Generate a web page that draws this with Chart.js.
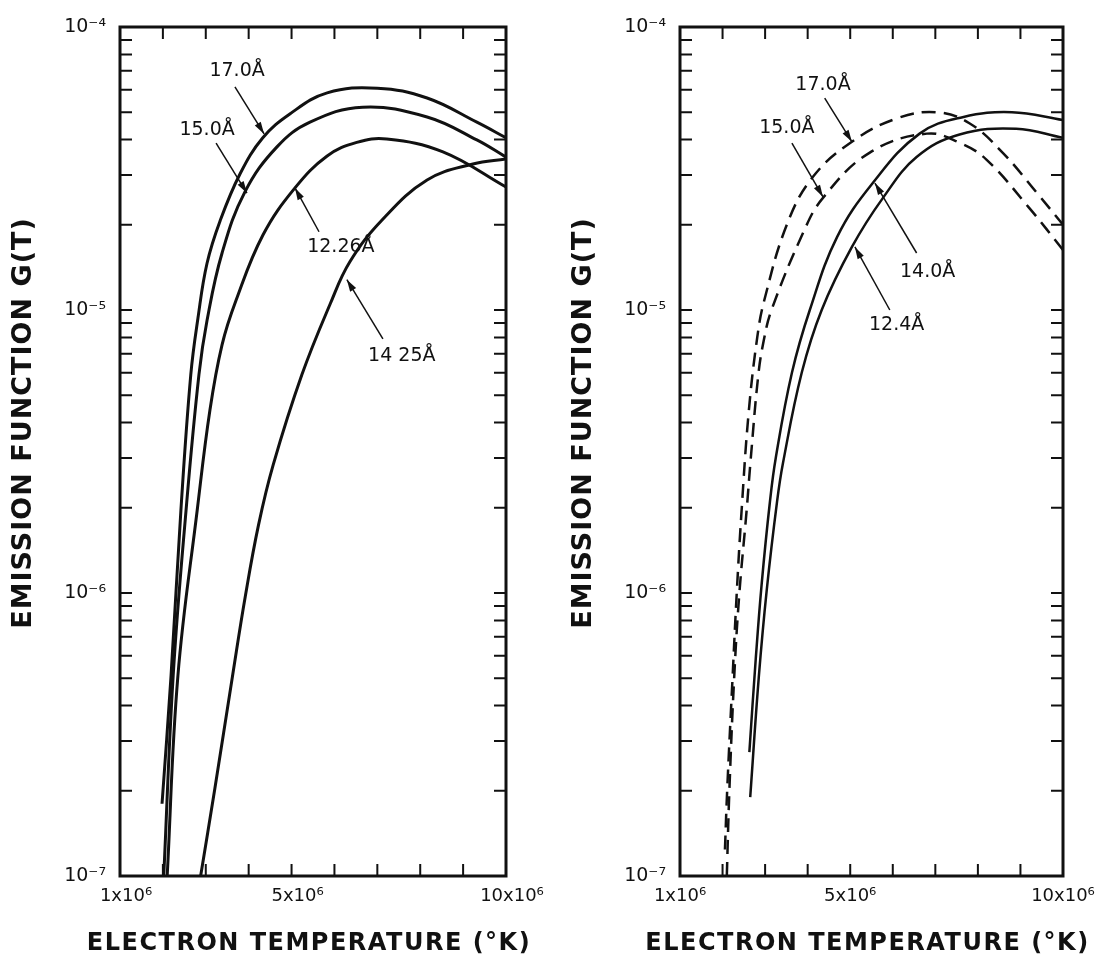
<!DOCTYPE html>
<html>
<head>
<meta charset="utf-8">
<script src="https://cdn.jsdelivr.net/npm/chart.js@4.4.1/dist/chart.umd.min.js"></script>
<style>
  html, body { margin: 0; padding: 0; background: #fff; }
  #wrap { position: relative; width: 1113px; height: 959px; }
  .panel { position: absolute; top: 0; height: 959px; }
  #leftBox { left: 0; width: 556px; }
  #rightBox { left: 556px; width: 557px; }
</style>
</head>
<body>
<div id="wrap">
  <div class="panel" id="leftBox"><canvas id="leftChart"></canvas></div>
  <div class="panel" id="rightBox"><canvas id="rightChart"></canvas></div>
</div>
<script>
// Electron temperature (K) and emission function G(T)

// left panel
const tL170 = [1.98e6, 2.19e6, 2.42e6, 2.65e6, 2.818e6, 3.028e6, 3.331e6, 3.8e6, 4.33e6, 4.96e6, 5.83e6, 7.0e6, 8.16e6, 9.32e6, 10.0e6];
const gL170 = [1.8e-7, 5.1e-7, 1.96e-6, 5.9e-6, 9.37e-6, 1.46e-5, 2.06e-5, 3.03e-5, 4.06e-5, 4.93e-5, 5.85e-5, 6.08e-5, 5.61e-5, 4.61e-5, 4.06e-5];

const tL150 = [2.02e6, 2.24e6, 2.54e6, 2.84e6, 3.03e6, 3.38e6, 3.91e6, 4.66e6, 5.43e6, 6.66e6, 8.16e6, 9.32e6, 10.0e6];
const gL150 = [1.0e-7, 5.1e-7, 1.96e-6, 5.9e-6, 9.2e-6, 1.59e-5, 2.61e-5, 3.77e-5, 4.61e-5, 5.21e-5, 4.81e-5, 3.99e-5, 3.47e-5];

const tL1226 = [2.1e6, 2.35e6, 2.8e6, 3.098e6, 3.378e6, 3.704e6, 4.333e6, 5.08e6, 5.83e6, 6.52e6, 7.22e6, 8.53e6, 10.0e6];
const gL1226 = [1.0e-7, 5.1e-7, 1.96e-6, 4.44e-6, 7.52e-6, 1.08e-5, 1.84e-5, 2.7e-5, 3.5e-5, 3.91e-5, 4.02e-5, 3.62e-5, 2.72e-5];

const tL1425 = [2.88e6, 3.21e6, 3.62e6, 3.92e6, 4.23e6, 4.57e6, 5.24e6, 5.9e6, 6.36e6, 7.11e6, 8.16e6, 9.23e6, 10.0e6];
const gL1425 = [1.0e-7, 2.03e-7, 5.05e-7, 9.7e-7, 1.74e-6, 2.83e-6, 5.9e-6, 1.05e-5, 1.48e-5, 2.08e-5, 2.88e-5, 3.28e-5, 3.42e-5];

// right panel
const tR170 = [2.056e6, 2.11e6, 2.237e6, 2.331e6, 2.448e6, 2.613e6, 2.815e6, 2.979e6, 3.51e6, 4.12e6, 5.04e6, 6.09e6, 7.03e6, 7.8e6, 8.58e6, 9.38e6, 10.0e6];
const gR170 = [1.24e-7, 2.03e-7, 5.09e-7, 9.84e-7, 1.96e-6, 4.33e-6, 8.0e-6, 1.08e-5, 2.0e-5, 2.95e-5, 3.93e-5, 4.75e-5, 5.0e-5, 4.57e-5, 3.6e-5, 2.6e-5, 2.0e-5];

const tR150 = [2.1e6, 2.16e6, 2.275e6, 2.392e6, 2.566e6, 2.66e6, 2.84e6, 2.97e6, 3.15e6, 3.89e6, 4.36e6, 5.46e6, 6.8e6, 7.57e6, 8.2e6, 9.2e6, 10.0e6];
const gR150 = [1.0e-7, 2.0e-7, 5.09e-7, 9.84e-7, 1.96e-6, 2.95e-6, 5.89e-6, 7.83e-6, 1.0e-5, 1.87e-5, 2.49e-5, 3.6e-5, 4.2e-5, 3.9e-5, 3.4e-5, 2.3e-5, 1.63e-5];

const tR140 = [2.63e6, 2.78e6, 2.92e6, 3.11e6, 3.25e6, 3.63e6, 4.05e6, 4.69e6, 5.53e6, 6.63e6, 7.64e6, 8.8e6, 10.0e6];
const gR140 = [2.74e-7, 5.85e-7, 1.08e-6, 2.08e-6, 3.0e-6, 6.0e-6, 1.0e-5, 1.81e-5, 2.81e-5, 4.2e-5, 4.8e-5, 5.0e-5, 4.69e-5];

const tR124 = [2.65e6, 2.85e6, 3.04e6, 3.28e6, 3.42e6, 3.86e6, 4.33e6, 5.04e6, 5.77e6, 6.56e6, 7.57e6, 8.9e6, 10.0e6];
const gR124 = [1.9e-7, 5.01e-7, 1.03e-6, 2.1e-6, 2.88e-6, 6.0e-6, 1.0e-5, 1.67e-5, 2.49e-5, 3.47e-5, 4.17e-5, 4.37e-5, 4.06e-5];

// axes
const xTicks = [1e6, 5e6, 1e7];
const xLabels = ['1x10⁶', '5x10⁶', '10x10⁶'];
const yTicks = [1e-7, 1e-6, 1e-5, 1e-4];
const yLabels = ['10⁻⁷', '10⁻⁶', '10⁻⁵', '10⁻⁴'];
const xMinor = [2e6, 3e6, 4e6, 5e6, 6e6, 7e6, 8e6, 9e6];
const yMinor = [];
[1e-7, 1e-6, 1e-5].forEach(d => { for (let k = 1; k <= 10; k++) yMinor.push(d * k); });

const xTitle = 'ELECTRON TEMPERATURE (°K)';
const yTitle = 'EMISSION FUNCTION G(T)';

const ink = '#111';
const family = "'DejaVu Sans', sans-serif";

const zip = (t, g) => t.map((v, i) => ({ x: v, y: g[i] }));

// labels with arrows: text position, arrow tail, arrow tip (data coordinates)
const leftNotes = [
    { text: '17.0Å', at: [3.73e6, 7.0e-5], from: [3.68e6, 6.14e-5], to: [4.36e6, 4.19e-5] },
    { text: '15.0Å', at: [3.03e6, 4.33e-5], from: [3.24e6, 3.89e-5], to: [3.96e6, 2.59e-5] },
    { text: '12.26Å', at: [6.15e6, 1.67e-5], from: [5.64e6, 1.89e-5], to: [5.08e6, 2.7e-5] },
    { text: '14 25Å', at: [7.57e6, 6.87e-6], from: [7.13e6, 7.9e-6], to: [6.29e6, 1.28e-5] }
];
const rightNotes = [
    { text: '17.0Å', at: [4.36e6, 6.24e-5], from: [4.40e6, 5.61e-5], to: [5.04e6, 3.93e-5] },
    { text: '15.0Å', at: [3.51e6, 4.4e-5], from: [3.63e6, 3.89e-5], to: [4.36e6, 2.51e-5] },
    { text: '14.0Å', at: [6.82e6, 1.36e-5], from: [6.56e6, 1.59e-5], to: [5.58e6, 2.81e-5] },
    { text: '12.4Å', at: [6.09e6, 8.85e-6], from: [5.93e6, 1.0e-5], to: [5.11e6, 1.67e-5] }
];

function arrow(ctx, x0, y0, x1, y1) {
    const ang = Math.atan2(y1 - y0, x1 - x0);
    ctx.beginPath();
    ctx.moveTo(x0, y0);
    ctx.lineTo(x1, y1);
    ctx.stroke();
    ctx.beginPath();
    ctx.moveTo(x1, y1);
    ctx.lineTo(x1 - 12 * Math.cos(ang) + 3.5 * Math.sin(ang), y1 - 12 * Math.sin(ang) - 3.5 * Math.cos(ang));
    ctx.lineTo(x1 - 12 * Math.cos(ang) - 3.5 * Math.sin(ang), y1 - 12 * Math.sin(ang) + 3.5 * Math.cos(ang));
    ctx.closePath();
    ctx.fill();
}

// box, inward ticks, arrow labels and axis titles
const frame = {
    id: 'frame',
    afterDraw(chart, args, opts) {
        const { ctx, chartArea: a } = chart;
        const xs = chart.scales.x, ys = chart.scales.y;
        ctx.save();
        ctx.strokeStyle = ink;
        ctx.fillStyle = ink;
        ctx.lineWidth = 3;
        ctx.strokeRect(a.left, a.top, a.right - a.left, a.bottom - a.top);

        ctx.lineWidth = 2;
        ctx.beginPath();
        xMinor.forEach(v => {
            const px = xs.getPixelForValue(v);
            ctx.moveTo(px, a.top); ctx.lineTo(px, a.top + 12);
            ctx.moveTo(px, a.bottom); ctx.lineTo(px, a.bottom - 12);
        });
        yMinor.forEach(v => {
            const py = ys.getPixelForValue(v);
            ctx.moveTo(a.left, py); ctx.lineTo(a.left + 12, py);
            ctx.moveTo(a.right, py); ctx.lineTo(a.right - 12, py);
        });
        ctx.stroke();

        ctx.lineWidth = 1.5;
        ctx.font = '19px ' + family;
        ctx.textAlign = 'center';
        ctx.textBaseline = 'middle';
        opts.notes.forEach(n => {
            ctx.fillText(n.text, xs.getPixelForValue(n.at[0]), ys.getPixelForValue(n.at[1]));
            arrow(ctx, xs.getPixelForValue(n.from[0]), ys.getPixelForValue(n.from[1]),
                xs.getPixelForValue(n.to[0]), ys.getPixelForValue(n.to[1]));
        });

        ctx.letterSpacing = '1.5px';
        ctx.font = 'bold 24px ' + family;
        ctx.fillText(xTitle, (a.left + a.right) / 2 - 4, 944);
        ctx.letterSpacing = '1px';
        ctx.font = 'bold 27px ' + family;
        ctx.translate(a.left - 96, 423);
        ctx.rotate(-Math.PI / 2);
        ctx.fillText(yTitle, 0, 0);
        ctx.restore();
    }
};

function curve(t, g, width, dash) {
    return {
        data: zip(t, g),
        borderColor: ink,
        borderWidth: width,
        borderDash: dash || [],
        pointRadius: 0,
        fill: false,
        tension: 0.4
    };
}

function makeChart(id, datasets, notes, yWidth, padRight, labelShift) {
    return new Chart(document.getElementById(id).getContext('2d'), {
        type: 'line',
        data: { datasets: datasets },
        plugins: [frame],
        options: {
            responsive: true,
            maintainAspectRatio: false,
            animation: false,
            layout: { autoPadding: false, padding: { left: 0, top: 27, right: padRight, bottom: 0 } },
            plugins: {
                legend: { display: false },
                tooltip: { enabled: false },
                frame: { notes: notes }
            },
            scales: {
                x: {
                    type: 'linear',
                    min: 1e6,
                    max: 1e7,
                    afterBuildTicks: s => { s.ticks = xTicks.map(v => ({ value: v })); },
                    afterFit: s => { s.height = 83; },
                    grid: { display: false, drawTicks: false },
                    border: { display: false },
                    ticks: {
                        color: ink,
                        font: { family: family, size: 18 },
                        padding: 10,
                        labelOffset: labelShift,
                        maxRotation: 0,
                        autoSkip: false,
                        callback: (v, i) => xLabels[i]
                    }
                },
                y: {
                    type: 'logarithmic',
                    min: 1e-7,
                    max: 1e-4,
                    afterBuildTicks: s => { s.ticks = yTicks.map(v => ({ value: v })); },
                    afterFit: s => { s.width = yWidth; },
                    grid: { display: false, drawTicks: false },
                    border: { display: false },
                    ticks: {
                        color: ink,
                        font: { family: family, size: 19 },
                        padding: 14,
                        autoSkip: false,
                        callback: (v, i) => yLabels[i]
                    }
                }
            }
        }
    });
}

makeChart('leftChart', [
    curve(tL170, gL170, 3),
    curve(tL150, gL150, 3),
    curve(tL1226, gL1226, 3),
    curve(tL1425, gL1425, 3)
], leftNotes, 120, 50, 6);

makeChart('rightChart', [
    curve(tR170, gR170, 2.5, [14, 8]),
    curve(tR150, gR150, 2.5, [14, 8]),
    curve(tR140, gR140, 2.5),
    curve(tR124, gR124, 2.5)
], rightNotes, 124, 50, 0);
</script>
</body>
</html>
